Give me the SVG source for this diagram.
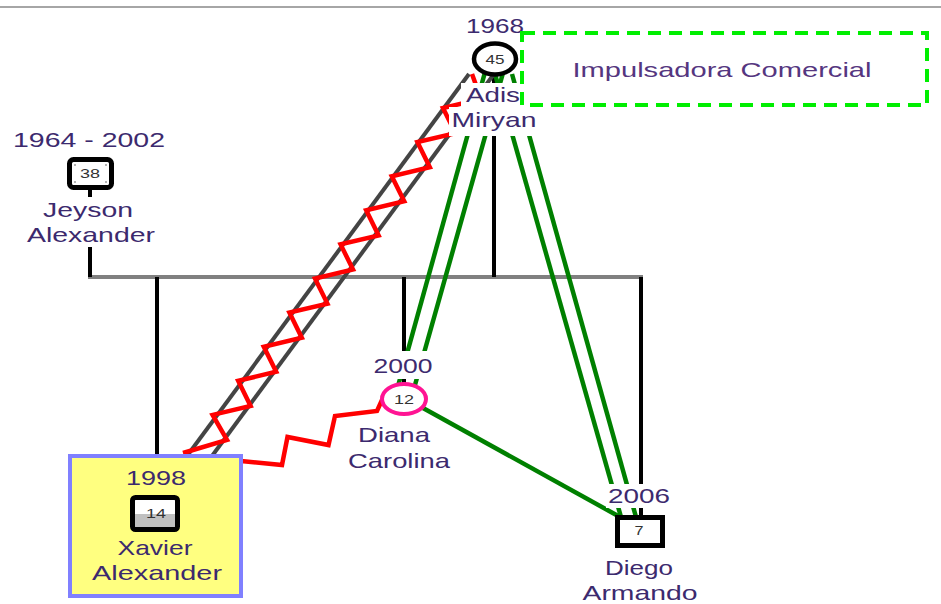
<svg xmlns="http://www.w3.org/2000/svg" width="941" height="604" viewBox="0 0 941 604">
<style>
.t{font-family:"Liberation Sans",Arial,sans-serif;font-size:21px;fill:#3c2a6e;text-anchor:middle}
.n{font-family:"Liberation Sans",Arial,sans-serif;font-size:13px;fill:#333;text-anchor:middle}
.bg{fill:#fff}
.blk{stroke:#000;stroke-width:4;fill:none}
.gry{stroke:#808080;stroke-width:4;fill:none}
.dg{stroke:#444;stroke-width:4;fill:none}
.grn{stroke:#008000;stroke-width:4.5;fill:none}
.red{stroke:#ff0000;stroke-width:4.5;fill:none;stroke-linejoin:miter}
</style>
<rect width="941" height="604" fill="#fff"/>
<line x1="0" y1="7" x2="941" y2="7" stroke="#888" stroke-width="1.5"/>
<g id="connectors">
  <line class="gry" x1="88" y1="277" x2="643" y2="277"/>
  <line class="blk" x1="90" y1="247" x2="90" y2="277"/>
  <line class="blk" x1="157" y1="277" x2="157" y2="456"/>
  <line class="blk" x1="404" y1="277" x2="404" y2="383"/>
  <line class="blk" x1="641" y1="277" x2="641" y2="517"/>
  <line class="blk" x1="494" y1="74" x2="494" y2="277"/>
  <line class="grn" x1="484.5" y1="74" x2="398.3" y2="385"/>
  <line class="grn" x1="502.7" y1="74" x2="415" y2="385"/>
  <line class="grn" x1="495" y1="74" x2="621" y2="517"/>
  <line class="grn" x1="512" y1="74" x2="636" y2="517"/>
  <line class="grn" x1="423" y1="408" x2="620" y2="517"/>
  <line class="dg" x1="187" y1="456" x2="469" y2="74"/>
  <line class="dg" x1="212" y1="456" x2="494" y2="74"/>
  <polyline class="red" points="183,453 227,440 212.6,414.9 250.6,405.9 238.2,380.8 276.2,371.8 263.8,346.7 301.8,337.7 289.4,312.6 327.4,303.6 315,278.5 353,269.5 340.6,244.4 378.6,235.4 366.2,210.3 404.2,201.3 391.8,176.2 429.8,167.2 417.4,142.1 455.4,133.1 443,108 481,99 472,74"/>
  <polyline class="red" points="241,461 282,465 287.5,437 328.5,445 335,416 377,411 382,400"/>
</g>
<g id="adis">
  <ellipse cx="495" cy="59" rx="21" ry="15.5" fill="#fff" stroke="#000" stroke-width="4.5"/>
  <text class="n" x="495" y="64" textLength="19" lengthAdjust="spacingAndGlyphs">45</text>
  <rect class="bg" x="464" y="14" width="62" height="24"/>
  <text class="t" x="495" y="33" textLength="58" lengthAdjust="spacingAndGlyphs">1968</text>
  <rect class="bg" x="461" y="83" width="66" height="24"/>
  <rect class="bg" x="449" y="107" width="90" height="29"/>
  <text class="t" x="493" y="102" textLength="54" lengthAdjust="spacingAndGlyphs">Adis</text>
  <text class="t" x="494" y="127" textLength="85" lengthAdjust="spacingAndGlyphs">Miryan</text>
</g>
<g id="impulsadora">
  <rect x="522" y="33" width="405" height="72" fill="none" stroke="#00ee00" stroke-width="4" stroke-dasharray="13 8"/>
  <text class="t" x="722" y="77" textLength="299" lengthAdjust="spacingAndGlyphs" style="fill:#553680">Impulsadora Comercial</text>
</g>
<g id="jeyson">
  <text class="t" x="89" y="147" textLength="152" lengthAdjust="spacingAndGlyphs">1964 - 2002</text>
  <line class="blk" x1="90" y1="188" x2="90" y2="197"/>
  <rect x="69.5" y="159.5" width="42" height="28" rx="4" fill="#fff" stroke="#000" stroke-width="5"/>
  <g fill="#999"><circle cx="75" cy="165" r="1"/><circle cx="106" cy="165" r="1"/><circle cx="75" cy="182" r="1"/><circle cx="106" cy="182" r="1"/></g>
  <text class="n" x="90" y="178" textLength="20" lengthAdjust="spacingAndGlyphs">38</text>
  <text class="t" x="88" y="217" textLength="90" lengthAdjust="spacingAndGlyphs">Jeyson</text>
  <text class="t" x="91" y="242" textLength="128" lengthAdjust="spacingAndGlyphs">Alexander</text>
</g>
<g id="xavier">
  <rect x="70" y="456" width="171" height="140" fill="#ffff80" stroke="#8080ff" stroke-width="4"/>
  <text class="t" x="156" y="485" textLength="60" lengthAdjust="spacingAndGlyphs">1998</text>
  <rect x="132.5" y="497.5" width="45" height="32" fill="#fff"/>
  <rect x="132.5" y="514" width="45" height="15.5" fill="#c0c0c0"/>
  <rect x="132.5" y="497.5" width="45" height="32" rx="3" fill="none" stroke="#000" stroke-width="5"/>
  <text class="n" x="156" y="518" textLength="20" lengthAdjust="spacingAndGlyphs">14</text>
  <text class="t" x="155" y="555" textLength="75" lengthAdjust="spacingAndGlyphs">Xavier</text>
  <text class="t" x="157" y="580" textLength="130" lengthAdjust="spacingAndGlyphs">Alexander</text>
</g>
<g id="diana">
  <rect class="bg" x="371" y="351" width="64" height="28"/>
  <text class="t" x="403" y="373" textLength="59" lengthAdjust="spacingAndGlyphs">2000</text>
  <ellipse cx="404" cy="399" rx="22" ry="15" fill="#fff" stroke="#ff1493" stroke-width="4"/>
  <text class="n" x="404" y="404" textLength="20" lengthAdjust="spacingAndGlyphs">12</text>
  <text class="t" x="394" y="442" textLength="72" lengthAdjust="spacingAndGlyphs">Diana</text>
  <text class="t" x="399" y="468" textLength="102" lengthAdjust="spacingAndGlyphs">Carolina</text>
</g>
<g id="diego">
  <rect class="bg" x="606" y="484" width="66" height="24"/>
  <text class="t" x="639" y="503" textLength="62" lengthAdjust="spacingAndGlyphs">2006</text>
  <rect x="617.5" y="517.5" width="45" height="28" fill="#fff" stroke="#000" stroke-width="5"/>
  <text class="n" x="639" y="535" textLength="9" lengthAdjust="spacingAndGlyphs">7</text>
  <text class="t" x="639" y="575" textLength="68" lengthAdjust="spacingAndGlyphs">Diego</text>
  <text class="t" x="640" y="600" textLength="115" lengthAdjust="spacingAndGlyphs">Armando</text>
</g>
</svg>
